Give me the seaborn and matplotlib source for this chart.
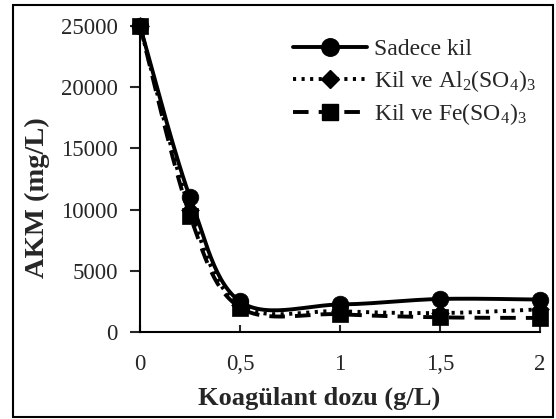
import numpy as np
import pandas as pd
import matplotlib.pyplot as plt
import seaborn as sns
from matplotlib.lines import Line2D
from matplotlib.patches import Rectangle

# veriler
doz = [0, 0.25, 0.5, 1, 1.5, 2]
sadece_kil = [25000, 11000, 2500, 2250, 2700, 2650]
kil_al = [25000, 10000, 2200, 1700, 1550, 1850]
kil_fe = [25000, 9500, 2000, 1450, 1200, 1150]
etiketler = ['Sadece kil', 'Kil ve Al$_2$(SO$_4$)$_3$', 'Kil ve Fe(SO$_4$)$_3$']
x_ticks = [0, 0.5, 1, 1.5, 2]
x_tick_labels = ['0', '0,5', '1', '1,5', '2']
y_ticks = [0, 5000, 10000, 15000, 20000, 25000]


def smooth(x, y, n=30):
    # Excel tarzi yumusak cizgi (Bezier, Catmull-Rom)
    p = np.column_stack([x, y]).astype(float)
    p = np.vstack([p[0], p, p[-1]])
    out = []
    t = np.linspace(0, 1, n)[:, None]
    for i in range(1, len(p) - 2):
        p0, p1, p2, p3 = p[i - 1], p[i], p[i + 1], p[i + 2]
        c1 = p1 + (p2 - p0) / 6
        c2 = p2 - (p3 - p1) / 6
        seg = ((1 - t) ** 3) * p1 + 3 * ((1 - t) ** 2) * t * c1 + 3 * (1 - t) * t ** 2 * c2 + t ** 3 * p2
        out.append(seg if i == 1 else seg[1:])
    out = np.vstack(out)
    return out[:, 0], out[:, 1]


sns.set_style('white')
plt.rcParams['font.family'] = ['Liberation Serif', 'DejaVu Serif']
plt.rcParams['mathtext.fontset'] = 'custom'
plt.rcParams['mathtext.rm'] = 'Liberation Serif'
plt.rcParams['mathtext.it'] = 'Liberation Serif:italic'

fig = plt.figure(figsize=(5.56, 4.19), dpi=100)
ax = fig.add_axes([0.2518, 0.2076, 0.7194, 0.7304])

stiller = [
    dict(ls='-', marker='o', ms=12, lw=2.8),
    dict(ls=(0, (0.8, 1.4)), marker='D', ms=9, lw=2.8),
    dict(ls=(0, (4, 2.6)), marker='s', ms=11.5, lw=2.8),
]
seriler = [sadece_kil, kil_al, kil_fe]

handles = []
for vals, st, lab in zip(seriler, stiller, etiketler):
    xs, ys = smooth(doz, vals)
    df = pd.DataFrame({'x': xs, 'y': ys})
    sns.lineplot(data=df, x='x', y='y', ax=ax, color='black', lw=st['lw'],
                 linestyle=st['ls'], sort=False, estimator=None, clip_on=False)
    sns.scatterplot(x=doz, y=vals, ax=ax, color='black', marker=st['marker'],
                    s=st['ms'] ** 2, edgecolor='black', linewidth=0.5,
                    clip_on=False, zorder=3)
    handles.append(Line2D([], [], color='black', lw=st['lw'], linestyle=st['ls'],
                          marker=st['marker'], markersize=st['ms'] * 1.05))

ax.set_xlim(0, 2)
ax.set_ylim(0, 25000)
ax.set_xticks(x_ticks)
ax.set_xticklabels(x_tick_labels)
ax.set_yticks(y_ticks)
ax.tick_params(axis='x', direction='in', length=5, width=1.5, labelsize=16.5, pad=16)
ax.tick_params(axis='y', direction='out', length=7, width=1.5, labelsize=16.5, pad=9)
ax.tick_params(bottom=True, left=True)
for s in ['top', 'right']:
    ax.spines[s].set_visible(False)
for s in ['left', 'bottom']:
    ax.spines[s].set_linewidth(1.5)
    ax.spines[s].set_color('black')

ax.set_xlabel('Koagülant dozu (g/L)', fontsize=19, fontweight='bold')
ax.set_ylabel('AKM (mg/L)', fontsize=20.5, fontweight='bold')
ax.xaxis.set_label_coords(0.4475, -0.178)
ax.yaxis.set_label_coords(-0.225, 0.44)

ax.legend(handles, etiketler, loc='upper left', bbox_to_anchor=(0.36, 0.99),
          frameon=False, fontsize=17, handlelength=3.1, handletextpad=0.3,
          labelspacing=0.33, borderaxespad=0.0)

fig.patches.append(Rectangle((13 / 556, 2 / 419), 540 / 556, 412 / 419,
                             transform=fig.transFigure, fill=False,
                             edgecolor='black', lw=1.5))

fig.savefig('out.png', dpi=100)
